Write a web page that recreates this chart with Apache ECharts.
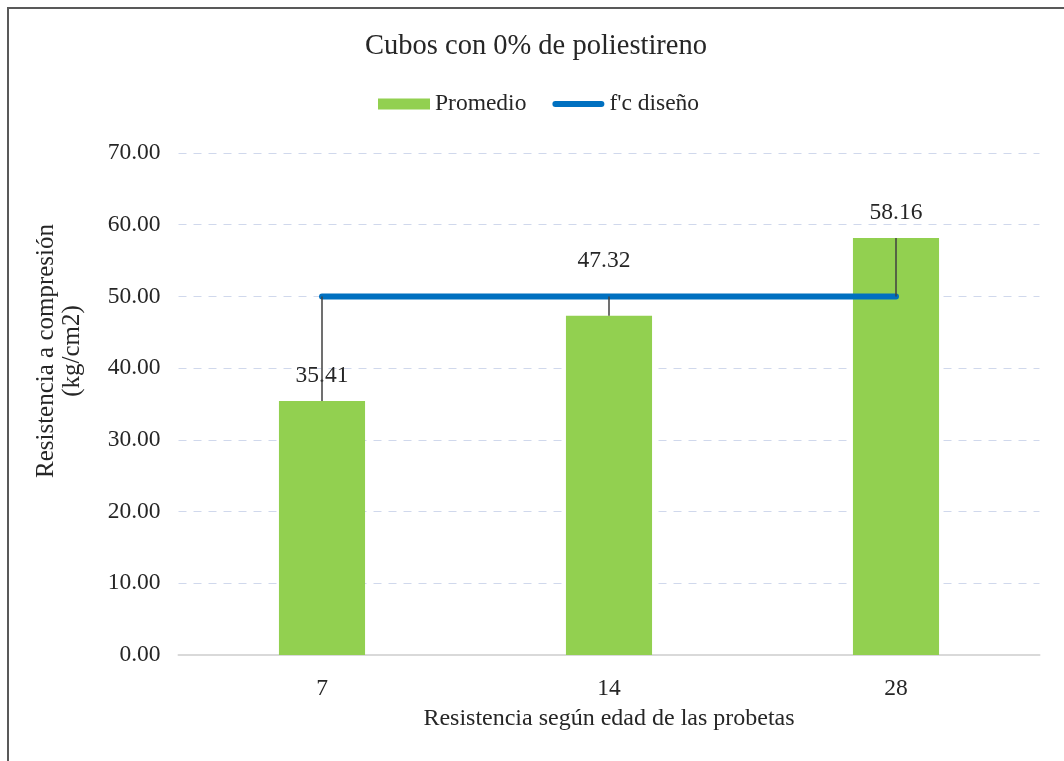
<!DOCTYPE html>
<html>
<head>
<meta charset="utf-8">
<title>Cubos con 0% de poliestireno</title>
<script src="https://cdn.jsdelivr.net/npm/echarts@6/dist/echarts.min.js"></script>
<style>
  html, body { margin: 0; padding: 0; background: #fff; }
  #chart { width: 1064px; height: 761px; }
</style>
</head>
<body>
<div id="chart"></div>
<script>
  // datos del grafico
  var edades = ['7', '14', '28']
  var promedio = [35.41, 47.32, 58.16]
  var fcDiseno = [50, 50, 50]
  var yTicks = { min: 0, max: 70, interval: 10 }

  var serif = 'Liberation Serif'
  var chart = echarts.init(document.getElementById('chart'))

  // distancia de la etiqueta sobre la barra (la del medio esta mas alta)
  var labelDist = [13, 43, 13]
  var labelDx = [0, -5, 0]

  // lineas guia de las etiquetas: de la barra hasta la linea de diseno
  var guias = edades.map(function (c, i) {
    return [{ coord: [c, promedio[i]] }, { coord: [c, fcDiseno[i]] }]
  })

  chart.setOption({
    animation: false,
    textStyle: { fontFamily: serif },
    graphic: [{
      type: 'rect',
      shape: { x: 8, y: 8, width: 1200, height: 1000 },
      style: { fill: 'none', stroke: '#595959', lineWidth: 2 },
      silent: true
    }],
    title: {
      text: 'Cubos con 0% de poliestireno',
      left: 365,
      top: 32,
      padding: 0,
      textStyle: { fontFamily: serif, fontSize: 28.5, fontWeight: 'normal', color: '#262626' }
    },
    legend: {
      top: 87,
      left: 373,
      itemGap: 26,
      itemWidth: 52,
      itemHeight: 11,
      textStyle: { fontFamily: serif, fontSize: 23.5, color: '#262626' },
      data: [
        { name: 'Promedio', icon: 'rect' },
        { name: 'f\'c diseño', icon: 'path://M3,0 h46 a3,3 0 0 1 0,6 h-46 a3,3 0 0 1 0,-6 z' }
      ]
    },
    grid: {
      left: 178.5,
      right: 24.5,
      top: 153,
      bottom: 106
    },
    xAxis: {
      type: 'category',
      data: edades,
      name: 'Resistencia según edad de las probetas',
      nameLocation: 'middle',
      nameGap: 52,
      nameTextStyle: { fontFamily: serif, fontSize: 24, color: '#262626' },
      axisTick: { show: false },
      axisLine: { lineStyle: { color: '#D9D9D9', width: 2 } },
      axisLabel: { margin: 22, fontFamily: serif, fontSize: 23.5, color: '#262626' }
    },
    yAxis: {
      type: 'value',
      min: yTicks.min,
      max: yTicks.max,
      interval: yTicks.interval,
      name: 'Resistencia a compresión\n(kg/cm2)',
      nameLocation: 'middle',
      nameGap: 93,
      nameTextStyle: {
        fontFamily: serif, fontSize: 25, lineHeight: 26, color: '#262626',
        padding: [0, 0, 0, 106]
      },
      axisLine: { show: false },
      axisTick: { show: false },
      axisLabel: {
        margin: 18,
        fontFamily: serif,
        fontSize: 23.5,
        color: '#262626',
        formatter: function (v) { return v.toFixed(2) }
      },
      splitLine: { lineStyle: { color: '#D0D8EC', type: [8, 7], width: 1 } }
    },
    series: [
      {
        name: 'Promedio',
        type: 'bar',
        barWidth: '30%',
        itemStyle: { color: '#92D050' },
        data: promedio.map(function (v, i) {
          return {
            value: v,
            label: { distance: labelDist[i], offset: [labelDx[i], 0] }
          }
        }),
        label: {
          show: true,
          position: 'top',
          fontFamily: serif,
          fontSize: 23.5,
          color: '#262626',
          formatter: function (p) { return p.value.toFixed(2) }
        },
        markLine: {
          silent: true,
          symbol: 'none',
          label: { show: false },
          lineStyle: { color: '#404040', width: 1.5, type: 'solid' },
          data: guias,
          z: 5
        }
      },
      {
        name: 'f\'c diseño',
        type: 'line',
        data: fcDiseno,
        symbol: 'none',
        z: 4,
        lineStyle: { color: '#0070C0', width: 6, cap: 'round' },
        itemStyle: { color: '#0070C0' }
      }
    ]
  })
</script>
</body>
</html>
